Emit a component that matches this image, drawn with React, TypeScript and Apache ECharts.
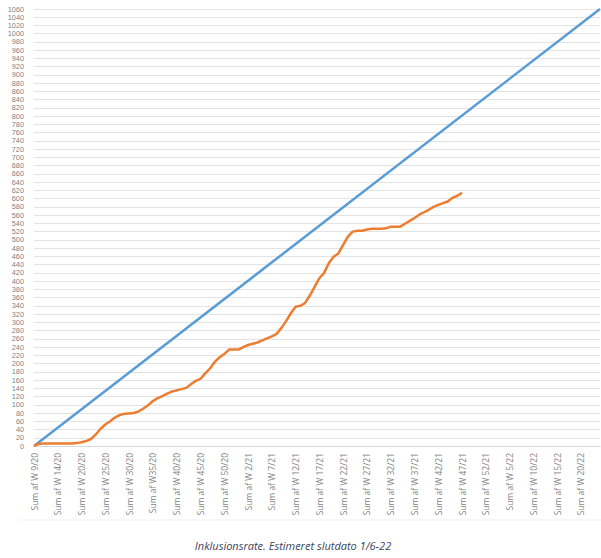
import React, { useEffect, useRef } from "react";
import * as echarts from "echarts";

// Week numbers per year shown on the category axis (2020 lacks week 15)
const weeks2020 = [9, 10, 11, 12, 13, 14, 16, 17, 18, 19, 20, 21, 22, 23, 24, 25, 26, 27, 28, 29, 30, 31, 32, 33, 34, 35, 36, 37, 38, 39, 40, 41, 42, 43, 44, 45, 46, 47, 48, 49, 50, 51, 52, 53];
const weeks2021 = [1, 2, 3, 4, 5, 6, 7, 8, 9, 10, 11, 12, 13, 14, 15, 16, 17, 18, 19, 20, 21, 22, 23, 24, 25, 26, 27, 28, 29, 30, 31, 32, 33, 34, 35, 36, 37, 38, 39, 40, 41, 42, 43, 44, 45, 46, 47, 48, 49, 50, 51, 52];
const weeks2022 = [1, 2, 3, 4, 5, 6, 7, 8, 9, 10, 11, 12, 13, 14, 15, 16, 17, 18, 19, 20, 21, 22, 23, 24];

const categories: string[] = [
  ...weeks2020.map((w) => (w === 35 ? "Sum af W35/20" : `Sum af W ${w}/20`)),
  ...weeks2021.map((w) => `Sum af W ${w}/21`),
  ...weeks2022.map((w) => `Sum af W ${w}/22`),
];

// Actual cumulative inclusions (orange)
const actual = [
  0, 5, 6, 6, 6, 6, 6, 6, 6, 7,
  9, 12, 17, 28, 42, 52, 60, 69, 75, 78,
  79, 80, 84, 91, 99, 109, 116, 121, 127, 132,
  135, 138, 141, 150, 158, 163, 176, 188, 204, 215,
  223, 234, 234, 234, 240, 245, 248, 251, 256, 261,
  266, 272, 286, 303, 322, 338, 340, 347, 365, 386,
  407, 420, 444, 459, 467, 488, 508, 520, 522, 522,
  525, 527, 527, 527, 528, 532, 532, 532, 539, 546,
  553, 561, 567, 573, 580, 585, 589, 593, 602, 607,
  614,
];

// Linear target (blue): start and end values, connected straight
const targetStart = 0;
const targetEnd = 1060;

const yMin = 0;
const yMax = 1060;
const yStep = 20;

const caption = "Inklusionsrate. Estimeret slutdato 1/6-22";

export default function App() {
  const ref = useRef<HTMLDivElement>(null);

  useEffect(() => {
    if (!ref.current) return;
    const chart = echarts.init(ref.current, null, { renderer: "svg" });
    const target: (number | null)[] = categories.map(() => null);
    target[0] = targetStart;
    target[categories.length - 1] = targetEnd;

    chart.setOption({
      animation: false,
      backgroundColor: "#ffffff",
      grid: { left: 34, right: 1, top: 9, bottom: 112, containLabel: false },
      xAxis: {
        type: "category",
        data: categories,
        boundaryGap: false,
        axisLine: { show: true, lineStyle: { color: "#d9d9d9", width: 1 } },
        axisTick: { show: false },
        axisLabel: {
          interval: 4,
          rotate: 90,
          margin: 7,
          fontSize: 8.5,
          color: "#7f7f7f",
          fontFamily: "Open Sans",
        },
        splitLine: { show: false },
      },
      yAxis: {
        type: "value",
        min: yMin,
        max: yMax,
        interval: yStep,
        axisLine: { show: false },
        axisTick: { show: false },
        axisLabel: {
          margin: 10,
          fontSize: 7.3,
          lineHeight: 8,
          color: "#7f7f7f",
          fontFamily: "Liberation Sans",
          showMinLabel: true,
          showMaxLabel: true,
          hideOverlap: false,
          formatter: (v: number) => String(v),
        },
        splitLine: { show: true, lineStyle: { color: "#e3e3e3", width: 1 } },
      },
      series: [
        {
          name: "Target",
          type: "line",
          data: target,
          connectNulls: true,
          symbol: "none",
          lineStyle: { color: "#5b9bd5", width: 2.5 },
          z: 2,
        },
        {
          name: "Actual",
          type: "line",
          data: actual,
          symbol: "none",
          lineStyle: { color: "#ed7d31", width: 2.5 },
          z: 3,
        },
      ],
      graphic: [
        {
          type: "line",
          shape: { x1: 20, y1: 520, x2: 601, y2: 520 },
          style: { stroke: "#efefef", lineWidth: 1 },
        },
        {
          type: "text",
          x: 293,
          y: 545,
          style: {
            text: caption,
            textAlign: "center",
            textVerticalAlign: "middle",
            fontSize: 11,
            fontStyle: "italic",
            fontFamily: "Open Sans",
            fill: "#40435a",
          },
        },
      ],
    });
    return () => chart.dispose();
  }, []);

  return (
    <div
      ref={ref}
      style={{ position: "fixed", left: 0, top: 0, width: 601, height: 558 }}
    />
  );
}
